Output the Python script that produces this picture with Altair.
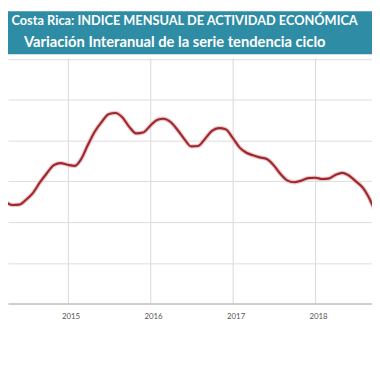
import altair as alt
import pandas as pd

# Monthly data (year-on-year % change of the trend-cycle series)
months = pd.date_range("2014-01-01", "2018-11-01", freq="MS").strftime("%Y-%m-%d").tolist()
values = [2.82, 2.70, 2.60, 2.49, 2.42, 2.43, 2.55, 2.72, 2.98, 3.20, 3.40, 3.45,
          3.41, 3.38, 3.54, 3.90, 4.22, 4.46, 4.65, 4.68, 4.57, 4.34, 4.18, 4.20,
          4.36, 4.51, 4.54, 4.46, 4.27, 4.04, 3.86, 3.87, 4.05, 4.24, 4.31, 4.28,
          4.07, 3.83, 3.71, 3.64, 3.59, 3.55, 3.40, 3.18, 3.02, 2.98, 3.02, 3.08,
          3.09, 3.06, 3.07, 3.16, 3.21, 3.14, 3.00, 2.84, 2.55, 2.17, 1.78]
year_ticks = [2015, 2016, 2017, 2018]
y_grid = [0, 1, 2, 3, 4, 5, 6]
title_lines = ["Costa Rica: INDICE MENSUAL DE ACTIVIDAD ECONÓMICA",
               "Variación Interanual de la serie tendencia ciclo"]

df = pd.DataFrame({"fecha": months, "valor": values})
W = 371
H = 298
one = pd.DataFrame({"a": [0]})

xscale = alt.Scale(domain=["2014-04-12", "2018-09-10"])
xaxis = alt.Axis(
    values=[alt.DateTime(year=y, month=1, date=1) for y in year_ticks],
    format="%Y", title=None, grid=True, gridColor="#d8d8d8", gridWidth=1,
    ticks=False, domainColor="#c4c4c4", domainWidth=1.6,
    labelFont="Lato", labelFontSize=8, labelColor="#555555", labelPadding=9, labelOffset=3,
)
yaxis = alt.Axis(values=y_grid, labels=False, ticks=False, domain=False, title=None,
                 grid=True, gridColor="#dcdcdc", gridWidth=1)

base = alt.Chart(df).encode(
    x=alt.X("fecha:T", scale=xscale, axis=xaxis),
    y=alt.Y("valor:Q", scale=alt.Scale(domain=[0, H / 41.5], nice=False, zero=False), axis=yaxis),
)
halo = base.mark_line(clip=True, color="#e8a4a7", strokeWidth=4.5, opacity=0.6, interpolate="monotone")
line = base.mark_line(clip=True, color="#9b2a30", strokeWidth=2.2, interpolate="monotone")

# Header band
gap = alt.Chart(one).mark_rect(color="white").encode(
    x=alt.value(0), x2=alt.value(W), y=alt.value(0), y2=alt.value(48)
)
band = alt.Chart(one).mark_rect(color="#2f8ca5").encode(
    x=alt.value(0), x2=alt.value(W), y=alt.value(0), y2=alt.value(44)
)
t1 = alt.Chart(pd.DataFrame({"t": [title_lines[0]]})).mark_text(
    font="Lato", fontWeight="bold", fontSize=13, color="white", align="center", baseline="alphabetic"
).encode(text="t:N", x=alt.value(180), y=alt.value(14))
t2 = alt.Chart(pd.DataFrame({"t": [title_lines[1]]})).mark_text(
    font="Lato", fontWeight="bold", fontSize=15, color="white", align="center", baseline="alphabetic"
).encode(text="t:N", x=alt.value(170), y=alt.value(36))

chart = alt.layer(halo, line, gap, band, t1, t2).properties(
    width=W, height=H, background="white",
    padding={"left": 0, "top": 0, "right": 0, "bottom": 40},
    autosize=alt.AutoSizeParams(type="none"),
).configure_view(strokeWidth=0)

chart.save("out.html", embed_options={"renderer": "svg", "actions": False})
